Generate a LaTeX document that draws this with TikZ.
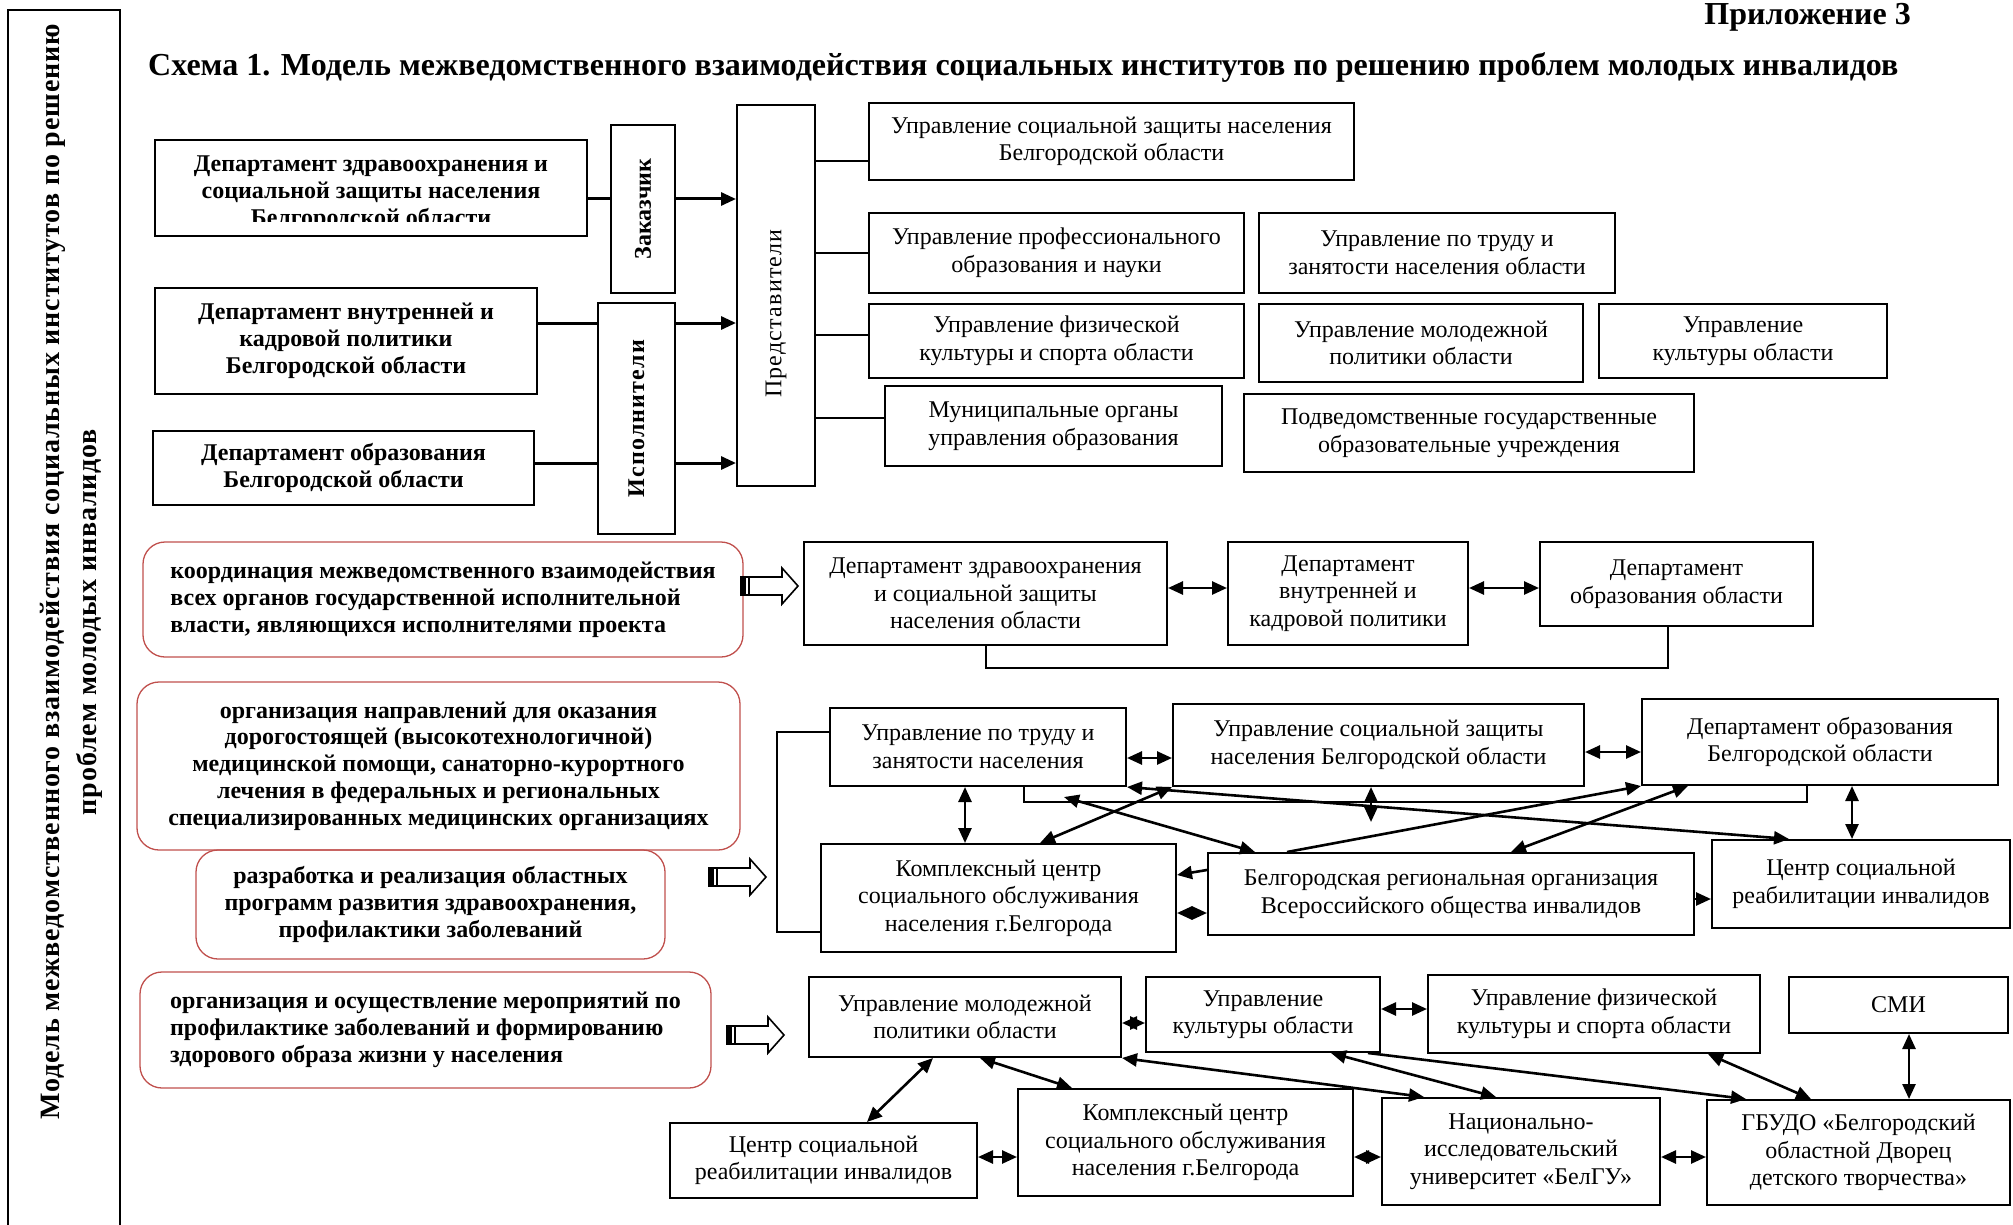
\documentclass[tikz,border=0pt]{standalone}
\usepackage{fontspec}
\setmainfont{Liberation Serif}
\newfontfamily\sidefont[LetterSpace=3]{Liberation Serif}
\newfontfamily\spacedfont[LetterSpace=5]{Liberation Serif}
\usetikzlibrary{arrows.meta}
\definecolor{redline}{RGB}{192,80,77}
\tikzset{
  box/.style={draw,rectangle,line width=2pt,inner sep=0pt,align=center,font=\fontsize{24}{27.5}\selectfont},
  boldbox/.style={box,font=\bfseries\fontsize{24}{27}\selectfont},
  boldtxt/.style={align=center,inner sep=0pt,font=\bfseries\fontsize{24}{27}\selectfont},
  redbox/.style={draw=redline,line width=1.3pt,rounded corners=22pt,inner sep=0pt,font=\bfseries\fontsize{24}{26.8}\selectfont},
  sidetxt/.style={rotate=90,inner sep=0pt,font=\sidefont\bfseries\fontsize{28}{34}\selectfont},
  headtxt/.style={inner sep=0pt,font=\bfseries\fontsize{32}{38}\selectfont},
  link/.style={line width=2pt},
  onearr/.style={line width=2.6pt,>={Triangle[length=15pt,width=13pt]},->},
  twoarr/.style={line width=2.6pt,>={Triangle[length=15pt,width=13pt]},<->},
  hollow/.pic={
    \draw[line width=1.6pt] (0,9) -- (41,9) -- (41,18) -- (57,0) -- (41,-18) -- (41,-9) -- (0,-9) -- cycle;
    \fill (0,-9) rectangle (5,9);
    \draw[line width=1.4pt] (8,-9) -- (8,9);
  },
}

\begin{document}
\begin{tikzpicture}[x=1pt,y=1pt]
  \useasboundingbox (0,0) rectangle (2013,-1225);
  \draw[link] (8,-1225) -- (8,-10) -- (120,-10) -- (120,-1225);
  \node[sidetxt] (sideA) at (53,-572) {Модель межведомственного взаимодействия социальных институтов по решению};
  \node[sidetxt] (sideB) at (89,-622) {проблем молодых инвалидов};
  \node[headtxt,anchor=base east] (annex) at (1911,-25) {Приложение 3};
  \node[headtxt,anchor=base west] (title) at (148,-76) {Схема 1. Модель межведомственного взаимодействия социальных институтов по решению проблем молодых инвалидов};

  \node[boldbox,minimum width=432pt,minimum height=96pt] (zdrav) at (371,-188) {};
  \begin{scope}
    \clip (zdrav.north west) rectangle ([yshift=15pt]zdrav.south east);
    \node[boldtxt] (zdravtxt) at (371,-193) {Департамент здравоохранения и\\социальной защиты населения\\Белгородской области};
  \end{scope}
  \node[boldbox,minimum width=382pt,minimum height=106pt] (vnutr) at (346,-341) {Департамент внутренней и\\кадровой политики\\Белгородской области};
  \node[boldbox,minimum width=381pt,minimum height=74pt] (dobr) at (343.5,-468) {Департамент образования\\Белгородской области};
  \node[boldbox,minimum width=64pt,minimum height=168pt] (zakaz) at (643,-209) {\rotatebox{90}{Заказчик}};
  \node[boldbox,minimum width=77pt,minimum height=231pt] (ispoln) at (636.5,-418.5) {\rotatebox{90}{\spacedfont\bfseries Исполнители}};
  \node[box,minimum width=78pt,minimum height=381pt] (pred) at (776,-295.5) {\rotatebox{90}{\spacedfont Представители\hspace*{36pt}}};
  \node[box,minimum width=485pt,minimum height=77pt] (usz) at (1111.5,-141.5) {Управление социальной защиты населения\\Белгородской области};
  \node[box,minimum width=375pt,minimum height=80pt] (uprof) at (1056.5,-253) {Управление профессионального\\образования и науки};
  \node[box,minimum width=356pt,minimum height=80pt] (utrud) at (1437,-253) {Управление по труду и\\занятости населения области};
  \node[box,minimum width=375pt,minimum height=74pt] (ufiz) at (1056.5,-341) {Управление физической\\культуры и спорта области};
  \node[box,minimum width=324pt,minimum height=78pt] (umol) at (1421,-343) {Управление молодежной\\политики области};
  \node[box,minimum width=288pt,minimum height=74pt] (ukult) at (1743,-341) {Управление\\культуры области};
  \node[box,minimum width=337pt,minimum height=80pt] (umun) at (1053.5,-426) {Муниципальные органы\\управления образования};
  \node[box,minimum width=450pt,minimum height=78pt] (upodv) at (1469,-433) {Подведомственные государственные\\образовательные учреждения};

  \coordinate (hA) at (0,-199);
  \coordinate (hB) at (0,-323);
  \coordinate (hC) at (0,-463);
  \draw[link,line width=3pt] (zdrav.east |- hA) -- (zakaz.west |- hA);
  \draw[onearr,line width=3pt] (zakaz.east |- hA) -- (pred.west |- hA);
  \draw[link,line width=3pt] (vnutr.east |- hB) -- (ispoln.west |- hB);
  \draw[onearr,line width=3pt] (ispoln.east |- hB) -- (pred.west |- hB);
  \draw[link,line width=3pt] (dobr.east |- hC) -- (ispoln.west |- hC);
  \draw[onearr,line width=3pt] (ispoln.east |- hC) -- (pred.west |- hC);
  \coordinate (hD) at (0,-161);
  \coordinate (hE) at (0,-253);
  \coordinate (hF) at (0,-335);
  \coordinate (hG) at (0,-418);
  \draw[link] (pred.east |- hD) -- (usz.west |- hD);
  \draw[link] (pred.east |- hE) -- (uprof.west |- hE);
  \draw[link] (pred.east |- hF) -- (ufiz.west |- hF);
  \draw[link] (pred.east |- hG) -- (umun.west |- hG);

  \node[redbox,align=left,minimum width=600pt,minimum height=115pt] (coord) at (443,-599.5) {координация межведомственного взаимодействия\\всех органов государственной исполнительной\\власти, являющихся исполнителями проекта};
  \pic at (741,-586) {hollow};
  \node[box,minimum width=363pt,minimum height=103pt] (d1) at (985.5,-593.5) {Департамент здравоохранения\\и социальной защиты\\населения области};
  \node[box,minimum width=240pt,minimum height=103pt] (d2) at (1348,-593.5) {Департамент\\внутренней и\\кадровой политики};
  \node[box,minimum width=273pt,minimum height=84pt] (d3) at (1676.5,-584) {Департамент\\образования области};
  \coordinate (hH) at (0,-588);
  \draw[twoarr] (d1.east |- hH) -- (d2.west |- hH);
  \draw[twoarr] (d2.east |- hH) -- (d3.west |- hH);
  \coordinate (cA) at (1668,-668);
  \draw[link] (d1.south) |- (cA) -- (cA |- d3.south);

  \node[redbox,align=center,minimum width=603pt,minimum height=168pt] (napr) at (438.5,-766) {организация направлений для оказания\\дорогостоящей (высокотехнологичной)\\медицинской помощи, санаторно-курортного\\лечения в федеральных и региональных\\специализированных медицинских организациях};
  \node[redbox,align=center,minimum width=469pt,minimum height=109pt] (progr) at (430.5,-904.5) {разработка и реализация областных\\программ развития здравоохранения,\\профилактики заболеваний};
  \pic at (709,-877) {hollow};
  \node[box,minimum width=296pt,minimum height=78pt] (r1) at (978,-747) {Управление по труду и\\занятости населения};
  \node[box,minimum width=411pt,minimum height=82pt] (r2) at (1378.5,-745) {Управление социальной защиты\\населения Белгородской области};
  \node[box,minimum width=356pt,minimum height=86pt] (r3) at (1820,-742) {Департамент образования\\Белгородской области};
  \node[box,minimum width=355pt,minimum height=108pt] (r4) at (998.5,-898) {Комплексный центр\\социального обслуживания\\населения г.Белгорода};
  \node[box,minimum width=486pt,minimum height=82pt] (r5) at (1451,-894) {Белгородская региональная организация\\Всероссийского общества инвалидов};
  \node[box,minimum width=298pt,minimum height=88pt] (r6) at (1861,-884) {Центр социальной\\реабилитации инвалидов};
  \coordinate (cB) at (777,-732);
  \coordinate (cC) at (777,-932);
  \draw[link] (r1.west |- cB) -- (cB) -- (cC) -- (r4.west |- cC);
  \coordinate (cD) at (1024,-802);
  \coordinate (cE) at (1807,-802);
  \draw[link] (cD |- r1.south) -- (cD) -- (cE) -- (cE |- r3.south);
  \coordinate (hI) at (0,-758);
  \coordinate (hJ) at (0,-752);
  \draw[twoarr] (r1.east |- hI) -- (r2.west |- hI);
  \draw[twoarr] (r2.east |- hJ) -- (r3.west |- hJ);
  \coordinate (vA) at (965,0);
  \draw[twoarr] (vA |- r1.south) -- (vA |- r4.north);
  \coordinate (cF) at (1371,-822);
  \draw[twoarr] (cF |- r2.south) -- (cF);
  \coordinate (vB) at (1852,0);
  \draw[twoarr] (vB |- r3.south) -- (vB |- r6.north);
  \coordinate (hK) at (0,-913);
  \draw[twoarr] (r4.east |- hK) -- (r5.west |- hK);
  \draw[onearr] ([yshift=24pt]r5.west) -- ([yshift=23pt]r4.east);
  \coordinate (hL) at (0,-899);
  \draw[onearr] (r5.east |- hL) -- (r6.west |- hL);
  \draw[twoarr] ([xshift=41.5pt]r4.north) -- (r2.south west);
  \coordinate (cG) at (1064,-797);
  \draw[twoarr] (cG) -- ([xshift=-196pt]r5.north);
  \draw[twoarr] (r1.south east) -- ([xshift=-72pt]r6.north);
  \draw[onearr] ([xshift=-164pt]r5.north) -- (r3.south west);
  \draw[twoarr] ([xshift=60pt]r5.north) -- ([xshift=-132pt]r3.south);

  \node[redbox,align=left,minimum width=571pt,minimum height=116pt] (prof) at (425.5,-1030) {организация и осуществление мероприятий по\\профилактике заболеваний и формированию\\здорового образа жизни у населения};
  \pic at (727,-1035) {hollow};
  \node[box,minimum width=312pt,minimum height=80pt] (b1) at (965,-1017) {Управление молодежной\\политики области};
  \node[box,minimum width=234pt,minimum height=75pt] (b2) at (1263,-1014.5) {Управление\\культуры области};
  \node[box,minimum width=332pt,minimum height=78pt] (b3) at (1594,-1014) {Управление физической\\культуры и спорта области};
  \node[box,minimum width=219pt,minimum height=56pt] (b4) at (1898.5,-1005) {СМИ};
  \node[box,minimum width=307pt,minimum height=75pt] (b5) at (823.5,-1160.5) {Центр социальной\\реабилитации инвалидов};
  \node[box,minimum width=335pt,minimum height=107pt] (b6) at (1185.5,-1142.5) {Комплексный центр\\социального обслуживания\\населения г.Белгорода};
  \node[box,minimum width=278pt,minimum height=107pt] (b7) at (1521,-1151.5) {Национально-\\исследовательский\\университет «БелГУ»};
  \node[box,minimum width=303pt,minimum height=105pt] (b8) at (1858.5,-1152.5) {ГБУДО «Белгородский\\областной Дворец\\детского творчества»};
  \coordinate (hM) at (0,-1023);
  \coordinate (hN) at (0,-1009);
  \coordinate (hO) at (0,-1157);
  \draw[twoarr] (b2.west |- hM) -- (b1.east |- hM);
  \draw[twoarr] (b2.east |- hN) -- (b3.west |- hN);
  \coordinate (vC) at (1909,0);
  \draw[twoarr] (vC |- b4.south) -- (vC |- b8.north);
  \draw[twoarr] ([xshift=-32pt]b1.south) -- ([xshift=43.5pt]b5.north);
  \draw[twoarr] ([xshift=15pt]b1.south) -- ([xshift=-113.5pt]b6.north);
  \draw[twoarr] (b1.south east) -- ([xshift=-97pt]b7.north);
  \draw[twoarr] ([xshift=68pt]b2.south) -- ([xshift=-25pt]b7.north);
  \draw[onearr] ([xshift=-13pt]b2.south east) -- ([xshift=-112.5pt]b8.north);
  \draw[twoarr] ([xshift=114pt]b3.south) -- ([xshift=-47.5pt]b8.north);
  \draw[twoarr] (b5.east |- hO) -- (b6.west |- hO);
  \draw[twoarr] (b6.east |- hO) -- (b7.west |- hO);
  \draw[twoarr] (b7.east |- hO) -- (b8.west |- hO);
\end{tikzpicture}
\end{document}
